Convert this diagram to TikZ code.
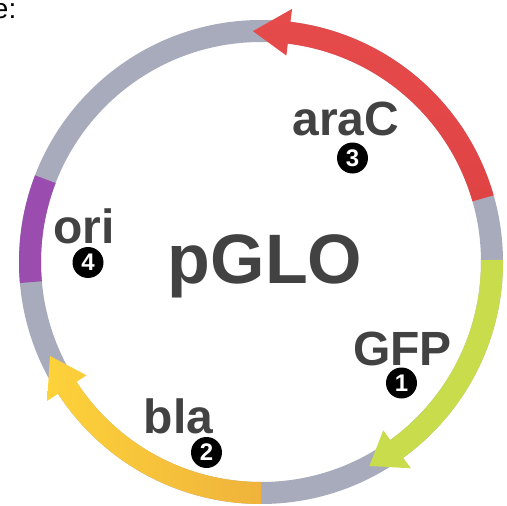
\documentclass[tikz,border=0pt]{standalone}
\usepackage{fontspec}
\setmainfont{Liberation Sans}
\definecolor{ringgrey}{HTML}{A8ABBC}
\definecolor{arared}{HTML}{E64B4B}
\definecolor{araredtail}{HTML}{E04343}
\definecolor{gfpgreen}{HTML}{C9DD4C}
\definecolor{blayellow}{HTML}{FDD23A}
\definecolor{blaorange}{HTML}{EFB33B}
\definecolor{oripurple}{HTML}{9A4DAE}
\definecolor{labelgrey}{HTML}{424242}
\tikzset{
  x=1pt, y=1pt,
  genelabel/.style={inner sep=0pt, anchor=base, text=labelgrey, font=\bfseries\fontsize{48}{48}\selectfont},
  numdot/.style={circle, fill=black, inner sep=0pt, minimum size=31pt, text=white, font=\bfseries\fontsize{24}{24}\selectfont},
}
% arrow: #1 fill options, #2 tail angle, #3 head base angle, #4 tip angle
\newcommand{\genearrow}[4]{%
  \path[#1] (#2:242) arc[start angle=#2, end angle=#3, radius=242]
    -- (#3:255) -- (#4:231) -- (#3:208) -- (#3:220)
    arc[start angle=#3, end angle=#2, radius=220] -- cycle;}
\begin{document}
\begin{tikzpicture}
\useasboundingbox (0,-506) rectangle (507,0);
\node[inner sep=0pt, anchor=base east, font=\fontsize{28}{28}\selectfont] (cut) at (16.5,-18) {e:};
\begin{scope}[shift={(261,-262)}]
  \coordinate (C) at (0,0);
  \draw[ringgrey, line width=22pt] (C) circle[radius=231];
  \draw[oripurple, line width=22pt] (159:231) arc[start angle=159, end angle=185, radius=231];
  \genearrow{top color=arared, bottom color=araredtail}{16}{83}{92}
  \genearrow{fill=gfpgreen}{0.5}{-54}{-62}
  \genearrow{left color=blayellow, right color=blaorange}{-90}{-147}{-156}
\end{scope}
\node[genelabel, font=\bfseries\fontsize{70}{70}\selectfont] (pglo) at (265,-283) {pGLO};
\node[genelabel] (arac) at (346,-135) {araC};
\node[genelabel] (gfp) at (402.5,-365) {GFP};
\node[genelabel] (bla) at (178.5,-433) {bla};
\node[genelabel] (ori) at (84,-243) {ori};
\node[numdot] (n3) at (352.5,-158) {3};
\node[numdot] (n1) at (401.5,-383) {1};
\node[numdot] (n2) at (206.5,-452.5) {2};
\node[numdot] (n4) at (88,-262.5) {4};
\end{tikzpicture}
\end{document}
